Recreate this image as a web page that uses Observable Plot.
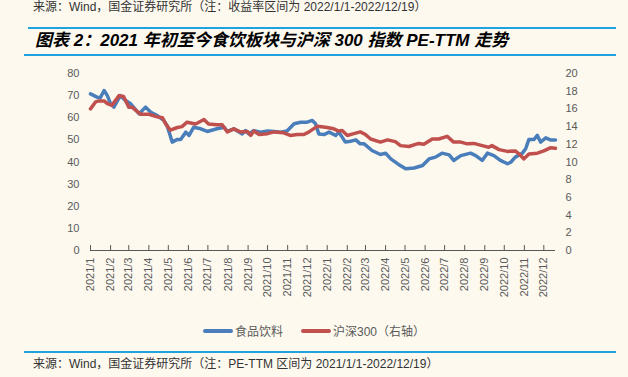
<!DOCTYPE html>
<html>
<head>
<meta charset="utf-8">
<script src="https://cdn.jsdelivr.net/npm/d3@7"></script>
<script src="https://cdn.jsdelivr.net/npm/@observablehq/plot@0.6"></script>
<style>
  html, body { margin: 0; padding: 0; }
  body { width: 628px; height: 377px; background: #fdf9ef; position: relative; overflow: hidden;
         font-family: "Liberation Sans", Arial, "Noto Sans CJK SC", sans-serif; }
  .src { position: absolute; left: 33px; font-size: 12px; color: #333; white-space: nowrap; line-height: 14px; }
  .rule { position: absolute; height: 2px; background: #1fa3e0; }
  .title { position: absolute; left: 35px; top: 30px; font-size: 17px; font-weight: bold; font-style: italic; color: #000; white-space: nowrap; line-height: 22px; }
  #chart { position: absolute; left: 0; top: 60px; }
  .legend { position: absolute; top: 322px; left: 0; width: 628px; display: flex; justify-content: center; gap: 18px; font-size: 12px; color: #595959; }
  .legend span.item { display: flex; align-items: center; }
  .legend i { display: inline-block; width: 30px; height: 4px; border-radius: 2px; margin-right: 2px; }
</style>
</head>
<body>
<div class="src" style="top:0px">来源：Wind，国金证券研究所（注：收益率区间为 2022/1/1-2022/12/19）</div>
<div class="rule" style="left:28px; top:27px; width:588px"></div>
<div class="title">图表 2：2021 年初至今食饮板块与沪深 300 指数 PE-TTM 走势</div>
<div class="rule" style="left:24px; top:54px; width:592px"></div>
<div id="chart"></div>
<div class="legend" id="legend"></div>
<div class="rule" style="left:24px; top:351px; width:592px"></div>
<div class="src" style="top:357px">来源：Wind，国金证券研究所（注：PE-TTM 区间为 2021/1/1-2022/12/19）</div>
<script>
// ---- data ----
const seriesNames = ["食品饮料", "沪深300（右轴）"];
const seriesColors = ["#4a7ebb", "#c0504d"];

const foodDates = ["2021-01-01","2021-01-11","2021-01-16","2021-01-22","2021-01-27","2021-02-01","2021-02-06","2021-02-16","2021-02-24","2021-03-04","2021-03-17","2021-03-27","2021-04-04","2021-04-14","2021-04-24","2021-04-29","2021-05-07","2021-05-15","2021-05-20","2021-05-28","2021-06-02","2021-06-09","2021-06-20","2021-06-30","2021-07-15","2021-07-26","2021-07-31","2021-08-10","2021-08-23","2021-08-28","2021-09-02","2021-09-10","2021-09-20","2021-10-01","2021-10-11","2021-10-21","2021-10-31","2021-11-11","2021-11-21","2021-12-01","2021-12-09","2021-12-14","2021-12-19","2021-12-27","2022-01-04","2022-01-14","2022-01-19","2022-01-29","2022-02-06","2022-02-14","2022-02-21","2022-02-27","2022-03-11","2022-03-24","2022-04-01","2022-04-09","2022-04-21","2022-05-02","2022-05-15","2022-05-28","2022-06-07","2022-06-17","2022-06-27","2022-07-08","2022-07-15","2022-07-26","2022-08-10","2022-08-18","2022-08-28","2022-09-05","2022-09-15","2022-09-25","2022-10-06","2022-10-11","2022-10-18","2022-10-29","2022-11-03","2022-11-08","2022-11-16","2022-11-21","2022-11-26","2022-12-04","2022-12-11","2022-12-19"];
const foodValues = [70.8,69.3,69,72.3,70,66.3,64.8,70,67.8,66.3,61.8,64.8,62.5,61,58.8,56.5,49,50.2,50.2,53.5,52,55.7,55,53.8,55,55.7,53.8,55,52.7,54.2,52.7,54.2,53.5,54,53.8,53.5,54,57.3,58,58,58.8,57.3,52.7,52.4,53.5,52,53.5,49,49.4,50,48.2,48.2,45.2,43.4,44,41.4,38.9,36.9,37.3,38.4,41.4,42.2,44,43.2,40.7,42.9,44,42.9,40.7,44,42.9,40.7,39.2,39.9,42.2,44,46,50.2,50.2,52,49,50.9,50,50];

const hsDates = ["2021-01-01","2021-01-09","2021-01-14","2021-01-22","2021-01-27","2021-02-03","2021-02-14","2021-02-21","2021-03-01","2021-03-06","2021-03-19","2021-04-01","2021-04-14","2021-04-22","2021-04-27","2021-05-04","2021-05-15","2021-05-22","2021-05-30","2021-06-12","2021-06-25","2021-07-02","2021-07-15","2021-07-23","2021-07-31","2021-08-10","2021-08-20","2021-08-31","2021-09-05","2021-09-10","2021-09-18","2021-10-01","2021-10-11","2021-10-26","2021-11-05","2021-11-16","2021-11-26","2021-12-04","2021-12-17","2022-01-01","2022-01-11","2022-01-19","2022-01-24","2022-02-01","2022-02-11","2022-02-21","2022-03-01","2022-03-09","2022-03-24","2022-04-04","2022-04-16","2022-04-24","2022-05-07","2022-05-22","2022-05-30","2022-06-12","2022-06-22","2022-07-05","2022-07-15","2022-07-26","2022-08-05","2022-08-15","2022-08-28","2022-09-07","2022-09-12","2022-09-23","2022-10-06","2022-10-18","2022-10-24","2022-10-31","2022-11-08","2022-11-21","2022-12-01","2022-12-11","2022-12-19"];
const hsValues = [16.0,16.8,16.9,16.9,16.6,16.4,17.5,17.4,16.2,16.2,15.4,15.4,15.1,15.0,14.3,13.6,13.9,14.0,14.5,14.3,14.8,14.3,14.2,14.2,13.4,13.75,13.4,13.45,13.0,13.5,13.1,13.2,13.4,13.3,13.0,13.1,13.1,13.4,14.05,13.9,13.75,13.5,13.55,13.0,13.2,13.4,13.1,12.6,12.25,12.5,12.3,11.85,11.75,12.1,12.0,12.6,12.6,12.9,12.25,12.25,12.05,12.1,11.85,11.67,11.85,11.4,11.2,11.25,10.9,10.35,10.9,11.0,11.25,11.6,11.55];

const leftTicks = [0, 10, 20, 30, 40, 50, 60, 70, 80];
const rightTicks = [0, 2, 4, 6, 8, 10, 12, 14, 16, 18, 20];
const xStart = "2021-01-01";
const xEnd = "2022-12-19";

// ---- build ----
const ratio = leftTicks[leftTicks.length - 1] / rightTicks[rightTicks.length - 1];
const food = foodDates.map((d, i) => ({date: new Date(d), value: foodValues[i]}));
const hs = hsDates.map((d, i) => ({date: new Date(d), value: hsValues[i]}));
const monthTicks = d3.utcMonth.range(new Date(xStart), new Date(xEnd));

const axisColor = "#595959";
const chart = Plot.plot({
  width: 628,
  height: 260,
  marginTop: 13,
  marginBottom: 70,
  marginLeft: 90,
  marginRight: 73,
  style: {background: "transparent", fontFamily: '"Liberation Sans", Arial, sans-serif', fontSize: "11px", color: axisColor},
  x: {type: "utc", domain: [new Date(xStart), new Date(xEnd)]},
  y: {domain: [leftTicks[0], leftTicks[leftTicks.length - 1]]},
  marks: [
    Plot.axisY({ticks: leftTicks, tickSize: 0, tickPadding: 11, label: null, fill: axisColor}),
    Plot.axisY({anchor: "right", ticks: rightTicks.map(v => v * ratio), tickFormat: d => String(d / ratio), tickSize: 0, tickPadding: 10, label: null, fill: axisColor}),
    Plot.ruleY([0], {stroke: axisColor, strokeWidth: 1.2}),
    Plot.axisX({ticks: monthTicks, tickSize: -5, tickPadding: 12, tickRotate: -90, tickFormat: d3.utcFormat("%Y/%-m"), label: null, stroke: axisColor, fill: axisColor}),
    Plot.lineY(food, {x: "date", y: "value", stroke: seriesColors[0], strokeWidth: 3.5, curve: "linear"}),
    Plot.lineY(hs, {x: "date", y: d => d.value * ratio, stroke: seriesColors[1], strokeWidth: 3.5, curve: "linear"})
  ]
});
document.getElementById("chart").appendChild(chart);

const legend = document.getElementById("legend");
seriesNames.forEach((name, i) => {
  const item = document.createElement("span");
  item.className = "item";
  const sw = document.createElement("i");
  sw.style.background = seriesColors[i];
  item.appendChild(sw);
  item.appendChild(document.createTextNode(name));
  legend.appendChild(item);
});
</script>
</body>
</html>
